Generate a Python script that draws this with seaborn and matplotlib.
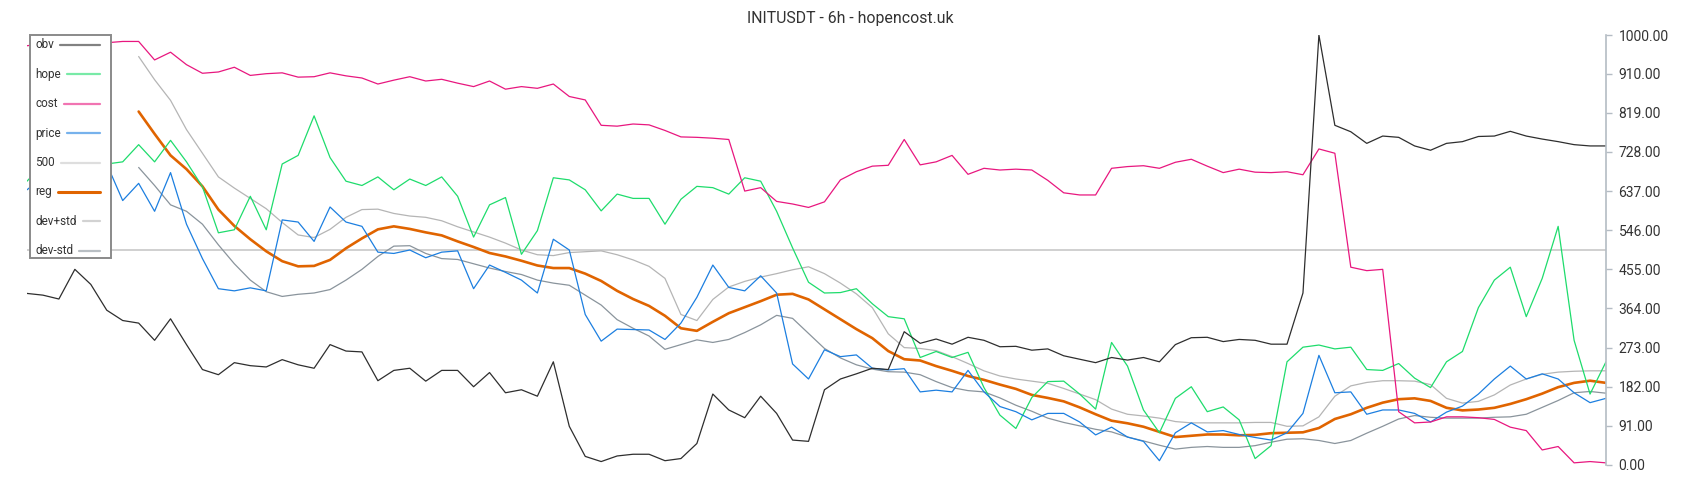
import numpy as np
import matplotlib
matplotlib.use("Agg")
import matplotlib.pyplot as plt
import seaborn as sns
from matplotlib.lines import Line2D
from matplotlib.patches import Rectangle

title = "INITUSDT - 6h - hopencost.uk"

# valori, un punto ogni ~16 px
obv = [399, 395, 386, 455, 420, 360, 336, 330, 290, 340,
       280, 222, 210, 238, 231, 228, 245, 233, 225, 280,
       265, 263, 196, 220, 225, 195, 220, 220, 182, 215,
       168, 175, 160, 240, 90, 20, 8, 21, 25, 25,
       10, 15, 50, 165, 128, 110, 160, 120, 58, 55,
       175, 200, 212, 225, 222, 310, 283, 293, 281, 297,
       290, 275, 276, 267, 270, 254, 246, 238, 250, 244,
       250, 240, 280, 296, 297, 287, 292, 290, 281, 281,
       400, 1000, 790, 775, 748, 765, 762, 742, 732, 748,
       752, 764, 765, 776, 765, 758, 752, 745, 742, 742]

cost = [975, 980, 985, 978, 985, 982, 985, 985, 942, 960,
        931, 911, 914, 925, 906, 910, 912, 902, 903, 912,
        905, 900, 886, 895, 903, 893, 897, 888, 880, 893,
        874, 880, 876, 886, 857, 849, 790, 788, 793, 791,
        778, 763, 762, 760, 757, 637, 645, 613, 607, 599,
        612, 663, 682, 695, 697, 757, 698, 705, 720, 676,
        690, 686, 688, 686, 662, 633, 628, 628, 690, 694,
        696, 690, 704, 711, 695, 680, 688, 681, 680, 682,
        675, 735, 725, 460, 452, 455, 124, 98, 100, 112,
        112, 110, 106, 88, 80, 35, 43, 5, 8, 5]

hope = [660, 700, 680, 720, 690, 700, 705, 745, 705, 755,
        705, 647, 540, 547, 625, 547, 700, 720, 812, 715,
        660, 650, 670, 640, 665, 650, 670, 625, 530, 605,
        622, 490, 545, 668, 663, 640, 591, 630, 620, 620,
        560, 618, 648, 645, 630, 668, 660, 590, 505, 425,
        400, 401, 410, 375, 345, 340, 250, 264, 250, 262,
        180, 116, 85, 157, 194, 195, 165, 130, 285, 230,
        128, 75, 155, 182, 124, 135, 105, 15, 45, 240,
        274, 279, 270, 274, 222, 220, 236, 202, 180, 240,
        264, 366, 430, 460, 345, 434, 555, 290, 165, 240]

price = [640, 670, 650, 700, 660, 700, 615, 655, 590, 680,
         560, 480, 410, 405, 412, 405, 570, 565, 520, 600,
         565, 555, 495, 492, 500, 482, 495, 498, 410, 465,
         448, 430, 400, 525, 500, 350, 288, 316, 315, 314,
         292, 330, 390, 465, 413, 405, 440, 400, 235, 200,
         268, 252, 256, 225, 221, 224, 170, 174, 170, 220,
         170, 136, 124, 105, 120, 120, 100, 70, 88, 65,
         55, 10, 75, 98, 77, 80, 71, 64, 58, 75,
         120, 255, 168, 170, 118, 128, 128, 120, 100, 123,
         137, 165, 200, 230, 200, 212, 200, 168, 145, 155]

level = [500] * len(obv)

# le medie mobili partono dopo i primi punti
reg = [822, 770, 720, 688, 648, 594, 556, 525, 497, 474,
       462, 463, 477, 504, 527, 548, 555, 549, 541, 534,
       520, 507, 493, 485, 475, 464, 458, 458, 445, 428,
       405, 386, 370, 347, 318, 312, 333, 353, 367, 381,
       396, 398, 385, 362, 339, 316, 295, 265, 246, 243,
       230, 219, 207, 198, 187, 177, 163, 156, 148, 134,
       118, 103, 97, 89, 77, 65, 68, 71, 71, 69,
       70, 74, 75, 76, 86, 107, 118, 133, 145, 153,
       155, 149, 133, 127, 129, 133, 142, 153, 166, 181,
       191, 196, 191]

dev_hi = [950, 896, 848, 780, 725, 670, 644, 620, 596, 564,
          535, 529, 548, 576, 594, 595, 585, 579, 576, 568,
          554, 542, 530, 516, 500, 489, 487, 494, 496, 498,
          489, 477, 462, 434, 350, 336, 385, 414, 427, 437,
          445, 454, 461, 445, 423, 398, 366, 305, 273, 271,
          266, 252, 236, 219, 207, 200, 195, 190, 178, 165,
          152, 130, 118, 114, 109, 101, 98, 98, 98, 98,
          99, 99, 90, 91, 112, 160, 184, 192, 196, 196,
          195, 187, 155, 144, 148, 163, 186, 200, 211, 216,
          218, 219, 219]

dev_lo = [692, 650, 605, 590, 560, 512, 468, 430, 403, 392,
          397, 400, 408, 430, 455, 485, 509, 510, 492, 480,
          478, 468, 458, 450, 443, 430, 423, 418, 395, 372,
          338, 318, 300, 269, 280, 291, 285, 292, 308, 326,
          348, 341, 306, 271, 249, 233, 223, 217, 216, 210,
          194, 180, 173, 170, 156, 139, 125, 109, 99, 91,
          83, 77, 65, 56, 46, 37, 41, 43, 41, 41,
          45, 53, 60, 61, 57, 50, 57, 74, 90, 107,
          115, 111, 109, 109, 109, 111, 112, 118, 134, 150,
          168, 171, 167]

ytick_vals = [0, 91, 182, 273, 364, 455, 546, 637, 728, 819, 910, 1000]
ytick_labels = ["0.00", "91.00", "182.00", "273.00", "364.00", "455.00",
                "546.00", "637.00", "728.00", "819.00", "910.00", "1000.00"]

n = len(obv)
idx = np.arange(n)

sns.set_style("white")
plt.rcParams["font.family"] = ["Roboto", "DejaVu Sans"]

fig = plt.figure(figsize=(17, 5), dpi=100)
ax = fig.add_axes([27 / 1700, 35 / 500, 1579 / 1700, 430 / 500])

# nome, valori, colore, spessore (ordine di disegno)
series = [
    ("500", level, "#c8c8c8", 1.2),
    ("dev+std", dev_hi, "#b5b5b5", 0.9),
    ("dev-std", dev_lo, "#8a949c", 0.9),
    ("reg", reg, "#e06400", 1.9),
    ("hope", hope, "#1edc6c", 0.9),
    ("price", price, "#1c7fe0", 0.9),
    ("cost", cost, "#e8177f", 0.9),
    ("obv", obv, "#2e2e2e", 0.9),
]
colors = {}
for name, vals, col, lw in series:
    x = idx[n - len(vals):]
    sns.lineplot(x=x, y=vals, ax=ax, color=col, linewidth=lw, estimator=None)
    colors[name] = col

ax.set_xlim(0, n - 1)
ax.set_ylim(0, 1000)
ax.set_xticks([])
ax.set_xlabel("")
ax.set_ylabel("")
for s in ["left", "top", "bottom"]:
    ax.spines[s].set_visible(False)
ax.spines["right"].set_color("#b4bcc4")
ax.spines["right"].set_linewidth(1.2)
ax.yaxis.tick_right()
ax.set_yticks(ytick_vals, ytick_labels)
ax.tick_params(axis="y", length=4, width=1, color="#b4bcc4",
               labelcolor="#333333", labelsize=10, pad=5)

fig.text(0.5, 1 - 19 / 500, title, ha="center", va="center",
         fontsize=11.4, color="#333333")

# legenda: testo a sinistra, linea a destra
legend_order = ["obv", "hope", "cost", "price", "500", "reg", "dev+std", "dev-std"]
fig.add_artist(Rectangle((30 / 1700, 1 - 258 / 500), 81 / 1700, 223 / 500,
                         transform=fig.transFigure, facecolor="white",
                         edgecolor="#8a8a8a", linewidth=1.4, zorder=5))
renderer = fig.canvas.get_renderer()
for k, name in enumerate(legend_order):
    ypx = 45 + 29.4 * k
    t = fig.text(35 / 1700, 1 - ypx / 500, name, ha="left", va="center",
                 fontsize=8.5, color="#333333", zorder=6)
    x1 = t.get_window_extent(renderer=renderer).x1
    a = 1.0 if name == "reg" else 0.6
    lw = 2.2 if name == "reg" else 1.6
    fig.add_artist(Line2D([(x1 + 6) / 1700, 100 / 1700], [1 - ypx / 500] * 2,
                          transform=fig.transFigure, color=colors[name],
                          alpha=a, linewidth=lw, zorder=6))

fig.savefig("out.png", dpi=100)
